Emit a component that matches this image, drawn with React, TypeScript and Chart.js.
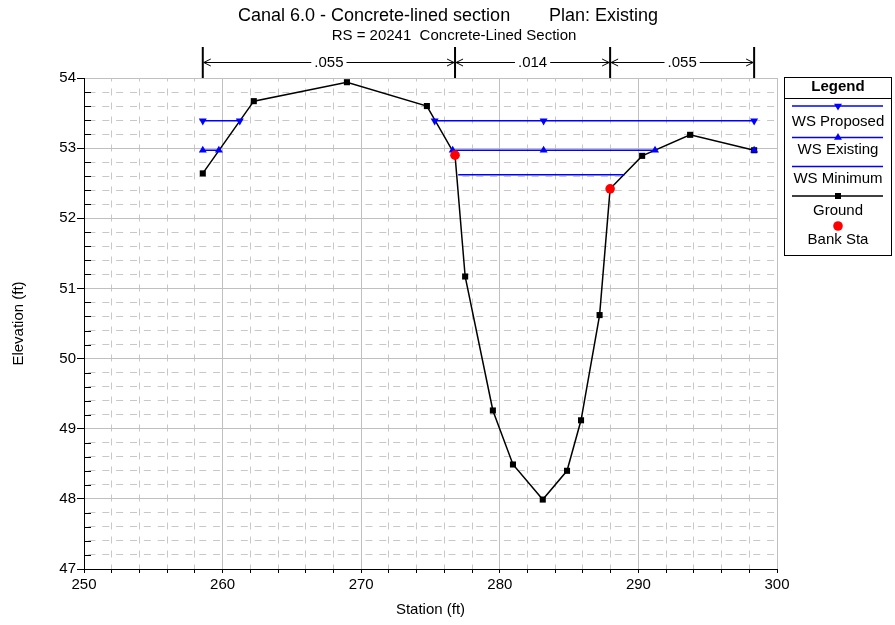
import React, { useEffect, useRef } from 'react';
import { Chart, registerables } from 'chart.js';

Chart.register(...registerables);

// ---- Data ----
const groundStation = [258.57, 262.25, 268.97, 274.74, 276.77, 277.5, 279.5, 280.95, 283.1, 284.85, 285.86, 287.2, 287.96, 290.27, 293.73, 298.35];
const groundElev = [52.64, 53.67, 53.94, 53.6, 52.9, 51.17, 49.26, 48.49, 47.99, 48.4, 49.12, 50.62, 52.42, 52.89, 53.19, 52.97];

const wsProposedLevel = 53.39;
const wsProposedSegments = [[258.57, 261.24], [275.3, 283.16, 298.35]];

const wsExistingLevel = 52.97;
const wsExistingSegments = [[258.57, 259.73], [276.6, 283.16, 291.2], [298.35]];

const wsMinimumLevel = 52.62;
const wsMinimumSegments = [[277.0, 289.0]];

const bankStation = [276.77, 287.96];
const bankElev = [52.9, 52.42];

const nStations = [258.57, 276.77, 287.96, 298.35];
const nValues = ['.055', '.014', '.055'];

const titleLeft = 'Canal 6.0 - Concrete-lined section';
const titleRight = 'Plan: Existing';
const subTitle = 'RS = 20241  Concrete-Lined Section';

const legendItems = ['WS Proposed', 'WS Existing', 'WS Minimum', 'Ground', 'Bank Sta'];

const FONT = '"Liberation Sans", Arial, Helvetica, sans-serif';
const BLUE = '#0000ff';

function segData(segments: number[][], level: number) {
  const out: { x: number; y: number | null }[] = [];
  segments.forEach((seg, i) => {
    if (i > 0) out.push({ x: seg[0], y: null });
    seg.forEach((x) => out.push({ x, y: level }));
  });
  return out;
}

const isInt = (v: number) => Math.abs(v - Math.round(v)) < 1e-6;
const isMajorX = (v: number) => isInt(v / 10);

function triangle(ctx: CanvasRenderingContext2D, x: number, y: number, r: number, rotDeg: number) {
  let rad = (rotDeg * Math.PI) / 180;
  ctx.beginPath();
  ctx.moveTo(x + Math.sin(rad) * r, y - Math.cos(rad) * r);
  rad += (2 * Math.PI) / 3;
  ctx.lineTo(x + Math.sin(rad) * r, y - Math.cos(rad) * r);
  rad += (2 * Math.PI) / 3;
  ctx.lineTo(x + Math.sin(rad) * r, y - Math.cos(rad) * r);
  ctx.closePath();
  ctx.fill();
}

const overlayPlugin = {
  id: 'overlay',
  afterDraw(chart: any) {
    const ctx: CanvasRenderingContext2D = chart.ctx;
    const X = chart.scales.x;
    const Y = chart.scales.y;
    const area = chart.chartArea;
    ctx.save();

    // Titles
    ctx.fillStyle = '#000';
    ctx.textBaseline = 'middle';
    ctx.font = `18px ${FONT}`;
    ctx.textAlign = 'left';
    ctx.fillText(titleLeft, 238, 16);
    ctx.textAlign = 'right';
    ctx.fillText(titleRight, 658, 16);
    ctx.font = `15px ${FONT}`;
    ctx.textAlign = 'center';
    ctx.fillText(subTitle, 454, 36);

    // y minor ticks inside the plot
    ctx.strokeStyle = '#000';
    ctx.lineWidth = 1;
    for (let i = 0; i <= 35; i++) {
      const v = 47 + i * 0.2;
      if (isInt(v)) continue;
      const py = Math.round(Y.getPixelForValue(v)) + 0.5;
      ctx.beginPath();
      ctx.moveTo(area.left, py);
      ctx.lineTo(area.left + 7, py);
      ctx.stroke();
    }

    // n-value markers
    const xs = nStations.map((s) => X.getPixelForValue(s));
    ctx.lineWidth = 2;
    xs.forEach((px) => {
      ctx.beginPath();
      ctx.moveTo(px, 47);
      ctx.lineTo(px, area.top);
      ctx.stroke();
    });
    ctx.lineWidth = 1;
    const ay = 62.5;
    ctx.font = `15px ${FONT}`;
    ctx.textAlign = 'center';
    for (let i = 0; i < nValues.length; i++) {
      const a = xs[i] + 1;
      const b = xs[i + 1] - 1;
      const mid = (a + b) / 2;
      const w = ctx.measureText(nValues[i]).width;
      ctx.beginPath();
      ctx.moveTo(a, ay);
      ctx.lineTo(mid - w / 2 - 3, ay);
      ctx.moveTo(mid + w / 2 + 3, ay);
      ctx.lineTo(b, ay);
      ctx.moveTo(a + 7, ay - 3.5);
      ctx.lineTo(a, ay);
      ctx.lineTo(a + 7, ay + 3.5);
      ctx.moveTo(b - 7, ay - 3.5);
      ctx.lineTo(b, ay);
      ctx.lineTo(b - 7, ay + 3.5);
      ctx.stroke();
      ctx.fillText(nValues[i], mid, ay);
    }

    // Legend
    const lx = 784.5, ly = 77.5, lw = 107, lh = 178;
    ctx.fillStyle = '#fff';
    ctx.fillRect(lx, ly, lw, lh);
    ctx.strokeStyle = '#000';
    ctx.lineWidth = 1;
    ctx.strokeRect(lx, ly, lw, lh);
    ctx.beginPath();
    ctx.moveTo(lx, 98.5);
    ctx.lineTo(lx + lw, 98.5);
    ctx.stroke();
    const cx = lx + lw / 2;
    ctx.fillStyle = '#000';
    ctx.font = `bold 15px ${FONT}`;
    ctx.fillText('Legend', cx, 87);
    ctx.font = `15px ${FONT}`;
    const lineY = [106, 137.5, 166.5, 196, 226];
    const labelY = [121.5, 150, 179, 210.5, 240];
    const x1 = 792, x2 = 883;
    ctx.strokeStyle = BLUE;
    ctx.fillStyle = BLUE;
    ctx.lineWidth = 1.5;
    for (let k = 0; k < 3; k++) {
      ctx.beginPath();
      ctx.moveTo(x1, lineY[k]);
      ctx.lineTo(x2, lineY[k]);
      ctx.stroke();
    }
    triangle(ctx, cx, lineY[0], 4.6, 180);
    triangle(ctx, cx, lineY[1], 4.6, 0);
    ctx.strokeStyle = '#000';
    ctx.fillStyle = '#000';
    ctx.beginPath();
    ctx.moveTo(x1, lineY[3]);
    ctx.lineTo(x2, lineY[3]);
    ctx.stroke();
    ctx.fillRect(cx - 3, lineY[3] - 3, 6, 6);
    ctx.fillStyle = '#ff0000';
    ctx.beginPath();
    ctx.arc(cx, lineY[4], 4.8, 0, Math.PI * 2);
    ctx.fill();
    ctx.fillStyle = '#000';
    legendItems.forEach((t, k) => ctx.fillText(t, cx, labelY[k]));

    ctx.restore();
  },
};

export default function App() {
  const ref = useRef<HTMLCanvasElement | null>(null);

  useEffect(() => {
    if (!ref.current) return;
    const tickFont = { family: FONT, size: 15 };
    const chart = new Chart(ref.current, {
      type: 'line',
      data: {
        datasets: [
          {
            label: 'Bank Sta',
            data: bankStation.map((x, i) => ({ x, y: bankElev[i] })),
            showLine: false,
            pointStyle: 'circle',
            pointRadius: 4.8,
            pointBackgroundColor: '#ff0000',
            pointBorderWidth: 0,
            borderColor: '#ff0000',
            order: 0,
          },
          {
            label: 'WS Existing',
            data: segData(wsExistingSegments, wsExistingLevel),
            borderColor: BLUE,
            borderWidth: 1.5,
            pointStyle: 'triangle',
            pointRadius: 4.6,
            pointRotation: 0,
            pointBackgroundColor: BLUE,
            pointBorderWidth: 0,
            spanGaps: false,
            order: 1,
          },
          {
            label: 'WS Proposed',
            data: segData(wsProposedSegments, wsProposedLevel),
            borderColor: BLUE,
            borderWidth: 1.5,
            pointStyle: 'triangle',
            pointRadius: 4.6,
            pointRotation: 180,
            pointBackgroundColor: BLUE,
            pointBorderWidth: 0,
            spanGaps: false,
            order: 2,
          },
          {
            label: 'WS Minimum',
            data: segData(wsMinimumSegments, wsMinimumLevel),
            borderColor: BLUE,
            borderWidth: 1.5,
            pointRadius: 0,
            order: 3,
          },
          {
            label: 'Ground',
            data: groundStation.map((x, i) => ({ x, y: groundElev[i] })),
            borderColor: '#000',
            borderWidth: 1.5,
            pointStyle: 'rect',
            pointRadius: 4.3,
            pointBackgroundColor: '#000',
            pointBorderWidth: 0,
            order: 4,
          },
        ],
      },
      options: {
        animation: false,
        responsive: false,
        events: [],
        elements: { line: { tension: 0 } },
        layout: { padding: { top: 78, right: 118, left: 0, bottom: 0 } },
        plugins: {
          legend: { display: false },
          tooltip: { enabled: false },
          title: { display: false },
        },
        scales: {
          x: {
            type: 'linear',
            min: 250,
            max: 300,
            afterFit: (s: any) => {
              s.height = 56;
            },
            ticks: {
              stepSize: 2,
              autoSkip: false,
              maxRotation: 0,
              padding: 3,
              color: '#000',
              font: tickFont,
              callback: (v: any) => (isMajorX(Number(v)) ? String(Math.round(Number(v))) : ''),
            },
            grid: {
              color: (c: any) => (c.tick && isMajorX(c.tick.value) ? '#c0c0c0' : '#c8c8c8'),
              lineWidth: 1,
              tickLength: 4,
              tickColor: '#000',
            },
            border: {
              color: '#000',
              width: 1,
              dash: (c: any) => (c.tick && !isMajorX(c.tick.value) ? [7, 7] : []),
              dashOffset: 3.5,
            },
            title: {
              display: true,
              text: 'Station (ft)',
              color: '#000',
              font: { family: FONT, size: 15 },
              padding: { top: 0, bottom: 6 },
            },
          },
          y: {
            type: 'linear',
            min: 47,
            max: 54,
            afterFit: (s: any) => {
              s.width = 84;
            },
            ticks: {
              stepSize: 0.2,
              autoSkip: false,
              padding: 1,
              color: '#000',
              font: tickFont,
              callback: (v: any) => (isInt(Number(v)) ? String(Math.round(Number(v))) : ''),
            },
            grid: {
              color: (c: any) => (c.tick && isInt(c.tick.value) ? '#c0c0c0' : '#c8c8c8'),
              lineWidth: 1,
              tickLength: 7,
              tickColor: (c: any) => (c.tick && isInt(c.tick.value) ? '#000' : 'rgba(0,0,0,0)'),
            },
            border: {
              color: '#000',
              width: 1,
              dash: (c: any) => (c.tick && !isInt(c.tick.value) ? [7, 6.85] : []),
              dashOffset: 10.4,
            },
            title: {
              display: true,
              text: 'Elevation (ft)',
              color: '#000',
              font: { family: FONT, size: 15 },
              padding: { top: 10, bottom: 0 },
            },
          },
        },
      } as any,
      plugins: [overlayPlugin],
    });
    return () => chart.destroy();
  }, []);

  return (
    <div style={{ position: 'absolute', left: 0, top: 0, width: 895, height: 625, background: '#fff' }}>
      <canvas ref={ref} width={895} height={625} style={{ display: 'block' }} />
    </div>
  );
}
